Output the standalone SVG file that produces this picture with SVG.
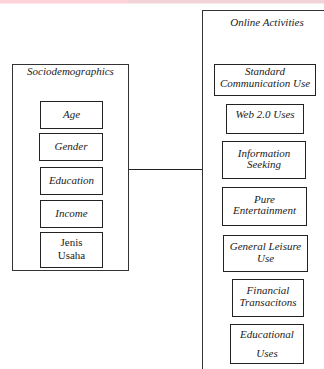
<svg xmlns="http://www.w3.org/2000/svg" width="324" height="369" viewBox="0 0 324 369">
<style>
.box{fill:#fff;stroke:#222;stroke-width:1}
.outer{fill:#fff;stroke:#333;stroke-width:1}
text{font-family:'Liberation Serif','Times New Roman','DejaVu Serif',serif;font-size:11px;fill:#222;text-anchor:middle}
.it{font-style:italic}
</style>
<rect width="324" height="369" fill="#fff"/>
<rect x="0" y="0" width="128" height="3.5" fill="#fcd4d8"/>
<rect x="128" y="0" width="196" height="3.5" fill="#f2d4d8"/>
<g id="connectors">
<line x1="128.5" y1="169.5" x2="202.5" y2="169.5" stroke="#222" stroke-width="1"/>
</g>
<g id="sociodemographics">
<rect class="outer" x="12.5" y="64.5" width="116" height="206"/>
<text class="it" x="70.5" y="75">Sociodemographics</text>
</g>
<g id="age"><rect class="box" x="40.5" y="101.5" width="62" height="27"/><text class="it" x="71.5" y="118">Age</text></g>
<g id="gender"><rect class="box" x="39.5" y="133.5" width="63" height="27"/><text class="it" x="71" y="149.5">Gender</text></g>
<g id="education"><rect class="box" x="40.5" y="167.5" width="62" height="27"/><text class="it" x="71.5" y="184">Education</text></g>
<g id="income"><rect class="box" x="40.5" y="200.5" width="62" height="27"/><text class="it" x="71.5" y="217">Income</text></g>
<g id="jenis-usaha"><rect class="box" x="40.5" y="232.5" width="62" height="35"/><text x="71.5" y="246">Jenis</text><text x="71.5" y="259">Usaha</text></g>
<g id="online-activities">
<rect class="outer" x="202.5" y="10.5" width="130" height="370"/>
<text class="it" x="267" y="26">Online Activities</text>
</g>
<g id="standard-communication"><rect class="box" x="214.5" y="64.5" width="101" height="31"/><text class="it" x="265" y="75">Standard</text><text class="it" x="265" y="87">Communication Use</text></g>
<g id="web20"><rect class="box" x="226.5" y="104.5" width="77" height="29"/><text class="it" x="265" y="118">Web 2.0 Uses</text></g>
<g id="information-seeking"><rect class="box" x="222.5" y="141.5" width="83" height="37"/><text class="it" x="264" y="157">Information</text><text class="it" x="264" y="168">Seeking</text></g>
<g id="pure-entertainment"><rect class="box" x="222.5" y="187.5" width="84" height="38"/><text class="it" x="264.5" y="203">Pure</text><text class="it" x="264.5" y="214">Entertainment</text></g>
<g id="general-leisure"><rect class="box" x="223.5" y="235.5" width="84" height="36"/><text class="it" x="265.5" y="250">General Leisure</text><text class="it" x="265.5" y="262">Use</text></g>
<g id="financial"><rect class="box" x="232.5" y="279.5" width="71" height="37"/><text class="it" x="268" y="294">Financial</text><text class="it" x="268" y="306">Transacitons</text></g>
<g id="educational"><rect class="box" x="230.5" y="324.5" width="73" height="39"/><text class="it" x="267" y="338">Educational</text><text class="it" x="267" y="357">Uses</text></g>
</svg>
